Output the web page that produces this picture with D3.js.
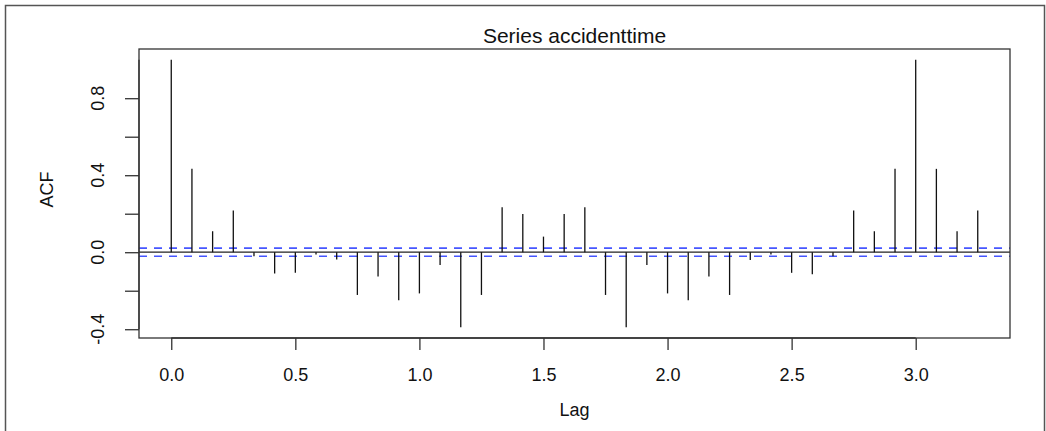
<!DOCTYPE html>
<html>
<head>
<meta charset="utf-8">
<script src="https://cdn.jsdelivr.net/npm/d3@7"></script>
<style>
  body { margin: 0; background: #fff; }
  text { font-family: "Liberation Sans", Arial, sans-serif; fill: #111; }
</style>
</head>
<body>
<svg id="acf" width="1046" height="431"></svg>
<script>
// acf values, lag in years (monthly series)
var lags = d3.range(40).map(function (k) { return k / 12; });
var acfValues = [
    1.0, 0.433, 0.109, 0.217, -0.021, -0.110, -0.107, -0.012, -0.038, -0.222,
    -0.126, -0.250, -0.214, -0.067, -0.390, -0.222, 0.234, 0.198, 0.081, 0.198,
    0.234, -0.222, -0.390, -0.067, -0.214, -0.250, -0.126, -0.222, -0.041, -0.012,
    -0.107, -0.114, -0.021, 0.217, 0.109, 0.433, 1.0, 0.433, 0.109, 0.217
];
var ciBound = 0.021;
var xTicks = [0, 0.5, 1, 1.5, 2, 2.5, 3];
var yTicks = [-0.4, -0.2, 0, 0.2, 0.4, 0.6, 0.8];
var yLabels = [-0.4, 0, 0.4, 0.8];

(function () {
    var svg = d3.select("#acf");
    var pLeft = 139, pRight = 1010, pTop = 49, pBottom = 338;
    // plain hyphen minus like R does
    var fmt = function (d) { return d.toFixed(1); };

    // R style 4% padding on the ranges
    var xExt = d3.extent(lags), yExt = [d3.min(acfValues), 1];
    var xPad = (xExt[1] - xExt[0]) * 0.04, yPad = (yExt[1] - yExt[0]) * 0.04;
    var x = d3.scaleLinear().domain([xExt[0] - xPad, xExt[1] + xPad]).range([pLeft, pRight]);
    var y = d3.scaleLinear().domain([yExt[0] - yPad, yExt[1] + yPad]).range([pBottom, pTop]);

    // outer figure frame
    svg.append("rect")
        .attr("x", 5.5).attr("y", 5.5)
        .attr("width", 1039).attr("height", 440)
        .attr("fill", "none").attr("stroke", "#555").attr("stroke-width", 1.5);

    // confidence bounds
    [ciBound, -ciBound].forEach(function (b) {
        svg.append("line")
            .attr("x1", pLeft).attr("x2", pRight)
            .attr("y1", y(b)).attr("y2", y(b))
            .attr("stroke", "#4656ff").attr("stroke-width", 1.6)
            .attr("stroke-dasharray", "8,7");
    });

    // zero line
    svg.append("line")
        .attr("x1", pLeft).attr("x2", pRight)
        .attr("y1", y(0)).attr("y2", y(0))
        .attr("stroke", "#222").attr("stroke-width", 1.2);

    // spikes
    svg.append("g").selectAll("line")
        .data(acfValues)
        .enter().append("line")
        .attr("x1", function (d, i) { return x(lags[i]); })
        .attr("x2", function (d, i) { return x(lags[i]); })
        .attr("y1", y(0))
        .attr("y2", function (d) { return y(d); })
        .attr("stroke", "#111").attr("stroke-width", 1.3);

    // plot box
    svg.append("rect")
        .attr("x", pLeft).attr("y", pTop)
        .attr("width", pRight - pLeft).attr("height", pBottom - pTop)
        .attr("fill", "none").attr("stroke", "#333").attr("stroke-width", 1.3);

    // x axis
    var xAxis = svg.append("g").attr("transform", "translate(0," + pBottom + ")")
        .call(d3.axisBottom(x).tickValues(xTicks).tickSize(12).tickPadding(18)
            .tickFormat(fmt));
    xAxis.select(".domain").attr("d", "M" + x(0) + ",0H" + x(3)).attr("stroke", "#333").attr("stroke-width", 1.3);
    xAxis.selectAll(".tick line").attr("stroke", "#333").attr("stroke-width", 1.3);
    xAxis.selectAll("text").style("font-size", "18px").style("font-family", "Liberation Sans, Arial, sans-serif").attr("fill", "#111");

    // y axis
    var yAxis = svg.append("g").attr("transform", "translate(" + pLeft + ",0)")
        .call(d3.axisLeft(y).tickValues(yTicks).tickSize(14).tickFormat(""));
    yAxis.select(".domain").attr("d", "M0," + y(-0.4) + "V" + y(1)).attr("stroke", "#333").attr("stroke-width", 1.3);
    yAxis.selectAll(".tick line").attr("stroke", "#333").attr("stroke-width", 1.3);

    svg.append("g").selectAll("text")
        .data(yLabels)
        .enter().append("text")
        .attr("transform", function (d) { return "translate(104," + y(d) + ") rotate(-90)"; })
        .attr("text-anchor", "middle")
        .style("font-size", "18px")
        .text(fmt);

    // titles
    svg.append("text")
        .attr("x", (pLeft + pRight) / 2).attr("y", 43)
        .attr("text-anchor", "middle")
        .style("font-size", "21px")
        .text("Series accidenttime");

    svg.append("text")
        .attr("x", (pLeft + pRight) / 2).attr("y", 416)
        .attr("text-anchor", "middle")
        .style("font-size", "18px")
        .text("Lag");

    svg.append("text")
        .attr("transform", "translate(53," + ((pTop + pBottom) / 2 - 4) + ") rotate(-90)")
        .attr("text-anchor", "middle")
        .style("font-size", "18px")
        .text("ACF");
})();
</script>
</body>
</html>
